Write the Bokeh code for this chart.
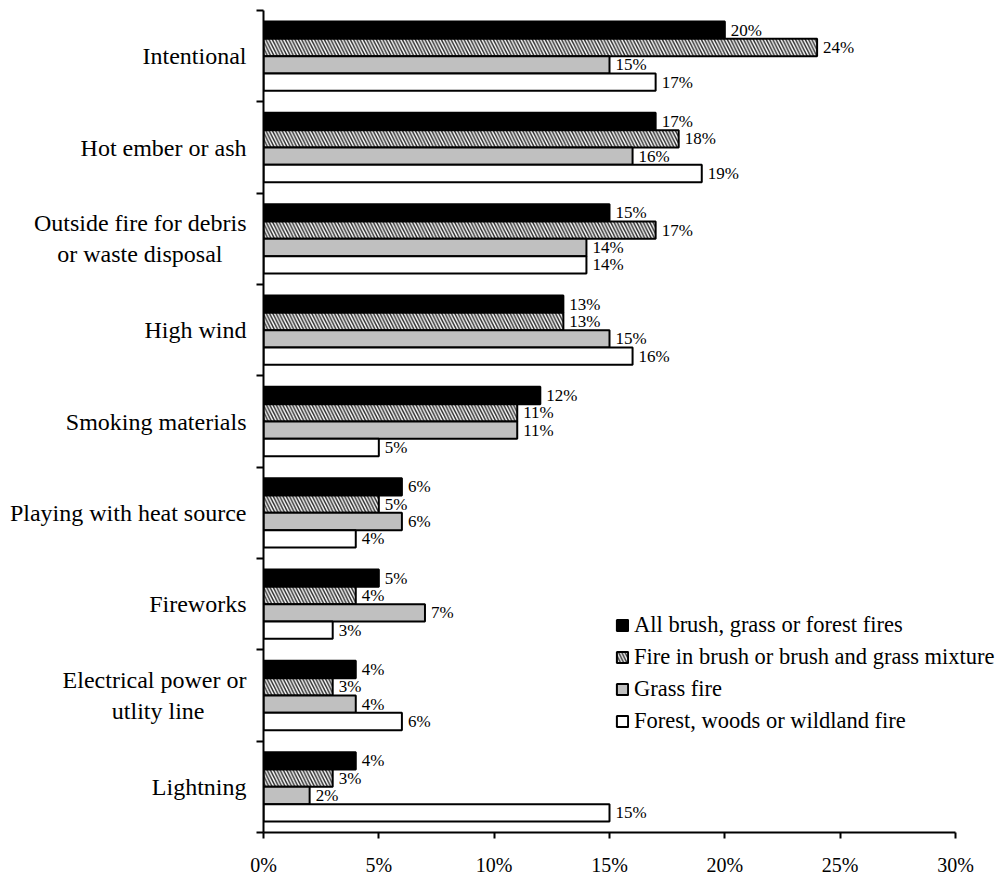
from bokeh.plotting import figure
from bokeh.models import (ColumnDataSource, Range1d, LinearAxis, CategoricalAxis, FixedTicker,
                          PrintfTickFormatter, Legend, LegendItem)
from bokeh.transform import dodge
from bokeh.core.properties import value
from bokeh.embed import file_html
from bokeh.resources import INLINE

NB = "\u00a0"  # no-break space, pads the short second line so it sits centred

causes = [
    "Intentional",
    "Hot ember or ash",
    "Outside fire for debris\nor waste disposal" + NB * 4,
    "High wind",
    "Smoking materials",
    "Playing with heat source",
    "Fireworks",
    "Electrical power or\nutlity line" + NB * 7,
    "Lightning",
]
all_fires = [20, 17, 15, 13, 12, 6, 5, 4, 4]
brush_fires = [24, 18, 17, 13, 11, 5, 4, 3, 3]
grass_fires = [15, 16, 14, 15, 11, 6, 7, 4, 2]
forest_fires = [17, 19, 14, 16, 5, 4, 3, 6, 15]
x_ticks = [0, 5, 10, 15, 20, 25, 30]

series_names = [
    "All brush, grass or forest fires",
    "Fire in brush or brush and grass mixture",
    "Grass fire",
    "Forest, woods or wildland fire",
]

src = ColumnDataSource(dict(
    cause=causes,
    all=all_fires,
    brush=brush_fires,
    grass=grass_fires,
    forest=forest_fires,
    all_lbl=[f"{v}%" for v in all_fires],
    brush_lbl=[f"{v}%" for v in brush_fires],
    grass_lbl=[f"{v}%" for v in grass_fires],
    forest_lbl=[f"{v}%" for v in forest_fires],
))

FONT = "Liberation Serif"

# the frame runs to the right page edge so the legend text has room;
# the axis itself stops at 30%
frame_px = 1003 - 263
axis_px = 692
x_end = x_ticks[-1] * frame_px / axis_px

p = figure(
    width=1003, height=879,
    y_range=list(reversed(causes)),
    x_range=Range1d(0, x_end),
    y_axis_location=None,
    output_backend="svg", toolbar_location=None,
    min_border_left=263, min_border_right=0,
    min_border_top=10, min_border_bottom=47,
)
p.outline_line_color = None
p.xgrid.grid_line_color = None
p.ygrid.grid_line_color = None
p.background_fill_color = "white"
p.border_fill_color = "white"

bar_h = 0.19
offsets = [0.285, 0.095, -0.095, -0.285]
styles = [
    dict(fill_color="black"),
    dict(fill_color="white", hatch_pattern="\\", hatch_color="#303030",
         hatch_scale=6.5, hatch_weight=1.5),
    dict(fill_color="#c0c0c0"),
    dict(fill_color="white"),
]
keys = ["all", "brush", "grass", "forest"]

renderers = []
for key, off, st in zip(keys, offsets, styles):
    r = p.hbar(y=dodge("cause", off, range=p.y_range), right=key, left=0,
               height=bar_h, source=src, line_color="black", line_width=2,
               **st)
    renderers.append(r)
    p.text(x=key, y=dodge("cause", off, range=p.y_range), text=key + "_lbl",
           source=src, x_offset=6, text_baseline="middle", text_align="left",
           text_font=value(FONT), text_font_size="17px", text_color="black")

# x axis
xa = p.xaxis[0]
xa.ticker = FixedTicker(ticks=x_ticks)
xa.bounds = (x_ticks[0], x_ticks[-1])
xa.formatter = PrintfTickFormatter(format="%d%%")
xa.axis_line_width = 2
xa.axis_line_color = "black"
xa.major_tick_line_width = 2
xa.major_tick_out = 6
xa.major_tick_in = 0
xa.minor_tick_line_color = None
xa.major_label_text_font = FONT
xa.major_label_text_font_size = "20px"
xa.major_label_text_color = "black"
xa.major_label_standoff = 15

# y axis line with ticks on the boundaries between cause groups
ba = LinearAxis(ticker=FixedTicker(ticks=list(range(len(causes) + 1))))
ba.major_label_text_font_size = "0px"
ba.major_label_text_color = None
ba.axis_line_width = 2
ba.axis_line_color = "black"
ba.major_tick_line_width = 2
ba.major_tick_out = 7
ba.major_tick_in = 0
ba.minor_tick_line_color = None
ba.major_label_standoff = 0
p.add_layout(ba, "left")

# cause names
ya = CategoricalAxis()
ya.major_tick_line_color = None
ya.minor_tick_line_color = None
ya.axis_line_color = None
ya.major_label_text_font = FONT
ya.major_label_text_font_size = "24px"
ya.major_label_text_color = "black"
ya.major_label_standoff = 4
p.add_layout(ya, "left")

legend = Legend(
    items=[LegendItem(label=n, renderers=[r]) for n, r in zip(series_names, renderers)],
    location=(352, 98),
    label_text_font=FONT, label_text_font_size="22.5px", label_text_color="black",
    glyph_width=14, glyph_height=14, label_height=24, label_standoff=5,
    spacing=6, padding=0, margin=0,
    border_line_color=None, background_fill_alpha=0,
)
p.add_layout(legend, "center")

open("out.html", "w").write(file_html(p, INLINE))
